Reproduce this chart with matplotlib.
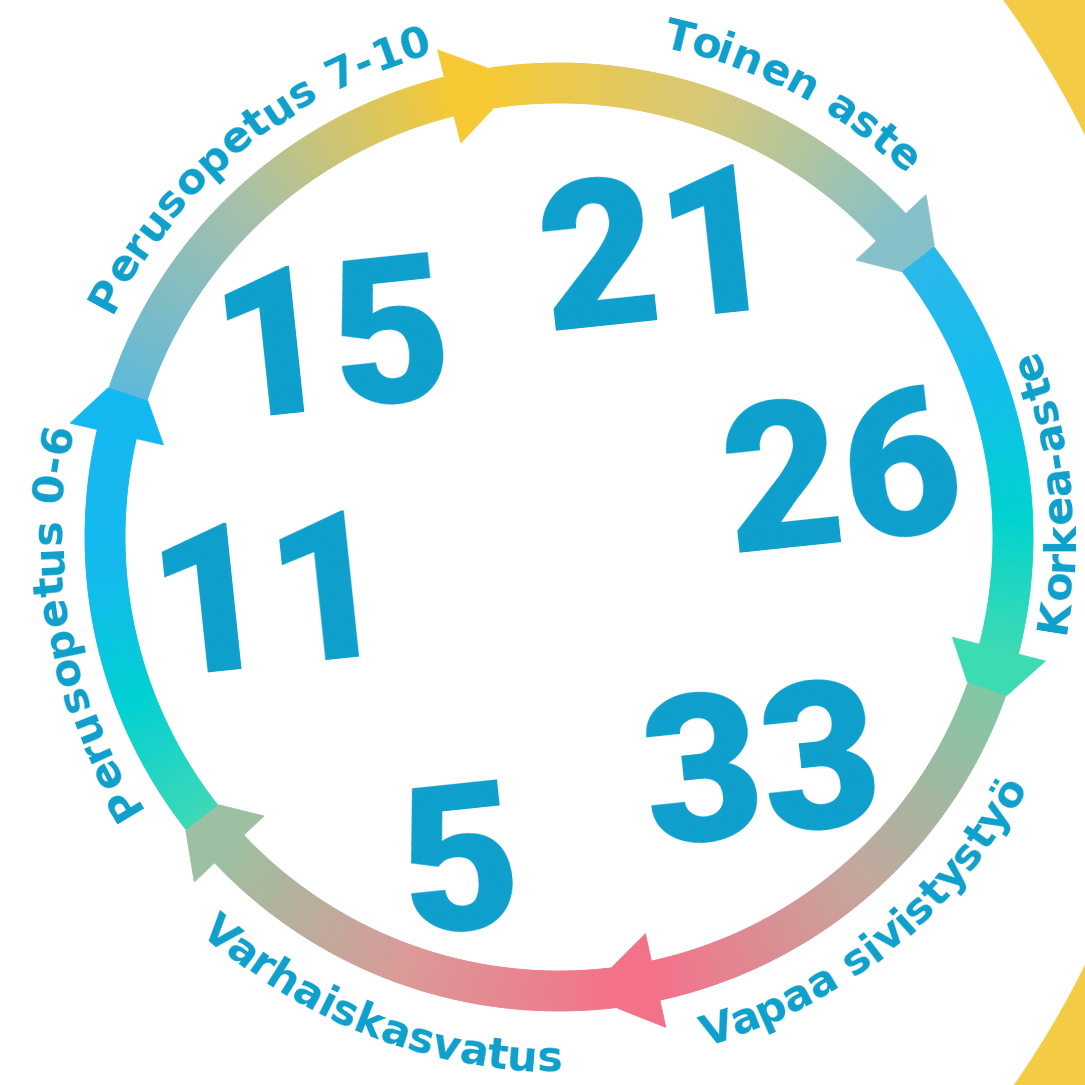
import numpy as np
import matplotlib.pyplot as plt
from matplotlib.collections import PolyCollection
from matplotlib.patches import Polygon, Wedge
from matplotlib.textpath import TextToPath
from matplotlib.font_manager import FontProperties
from matplotlib.colors import LinearSegmentedColormap

# data
stages = ["Toinen aste", "Korkea-aste", "Vapaa sivistystyö",
          "Varhaiskasvatus", "Perusopetus 0-6", "Perusopetus 7-10"]
values = [21, 26, 33, 5, 11, 15]

# layout (pixel coords of the 1085 px picture, y down)
W = 1085
DPI = 100
cx, cy = 559, W - 537
R = 454          # ring centre line
band = 40        # ring width
number_xy = [(658, 246), (842, 468), (761, 761), (458, 856), (268, 591), (331, 334)]
number_rot = 6
label_angle = [62.2, 5.4, -51.0, 249.0, 190.0, 129.0]
label_ccw = [False, True, True, True, False, False]
label_r = [500, 514, 530, 535, 498, 500]
arrow_angle = [104.0, 43.0, -14.3, -77.7, -136.6, -193.1]

# colour stops of each ring piece, going clockwise from an arrow to the next
seg_colors = [
    ["#F6C935", "#D6C87A", "#86C1C9"],
    ["#2AB8EA", "#12BDEE", "#00D2CF", "#3CDBB3"],
    ["#7FC8A3", "#C4A79D", "#F4718A"],
    ["#F4718A", "#DA9A98", "#9CC0A1"],
    ["#3ED8B6", "#00D0D2", "#14B9EE", "#14B8F0"],
    ["#5FB9DA", "#A8C0A8", "#F6C935"],
]
text_blue = "#0E9FCC"
yellow = "#F4CB45"

fig = plt.figure(figsize=(W / DPI, W / DPI), dpi=DPI)
ax = fig.add_axes([0, 0, 1, 1])
ax.set_xlim(0, W)
ax.set_ylim(0, W)
ax.set_aspect("equal")
ax.axis("off")


def pt(angle_deg, r):
    a = np.deg2rad(angle_deg)
    return cx + r * np.cos(a), cy + r * np.sin(a)


# big yellow ring at the right edge
ax.add_patch(Wedge((247, W - 550), 3000, 0, 360, width=3000 - 935,
                   facecolor=yellow, edgecolor="none"))

# gradient ring, piece by piece
arrow_len = 5.2   # degrees
n = len(arrow_angle)
for i in range(n):
    a0 = arrow_angle[i] - arrow_len
    a1 = arrow_angle[(i + 1) % n]
    if i == n - 1:
        a1 = arrow_angle[0] - 360
    cmap = LinearSegmentedColormap.from_list("s%d" % i, seg_colors[i])
    steps = np.linspace(a0, a1 - 0.5, 160)
    polys, cols = [], []
    for k in range(len(steps) - 1):
        s, e = steps[k], steps[k + 1]
        polys.append([pt(s, R - band / 2), pt(s, R + band / 2),
                      pt(e, R + band / 2), pt(e, R - band / 2)])
        cols.append(cmap(k / (len(steps) - 2)))
    ax.add_collection(PolyCollection(polys, facecolors=cols, edgecolors=cols,
                                     linewidths=0.6))

# arrow heads
for i in range(n):
    a = arrow_angle[i]
    col = seg_colors[i - 1][-1]
    poly = [pt(a, R + 48), pt(a, R - 48),
            pt(a - arrow_len, R - band / 2 - 1), pt(a - arrow_len, R + band / 2 + 1)]
    ax.add_patch(Polygon(poly, closed=True, facecolor=col, edgecolor=col, lw=0.5))

# curved labels
t2p = TextToPath()
fp = FontProperties(family="DejaVu Sans", weight="bold", size=31)


def width_px(s):
    w, h, d = t2p.get_text_width_height_descent(s, fp, ismath=False)
    return w * DPI / 72


for lab, ac, ccw, rb in zip(stages, label_angle, label_ccw, label_r):
    total = width_px(lab)
    for j, ch in enumerate(lab):
        if ch == " ":
            continue
        mid = (width_px(lab[:j]) + width_px(lab[:j + 1])) / 2 - total / 2
        d = np.rad2deg(mid / rb)
        ang = ac + d if ccw else ac - d
        rot = ang + 90 if ccw else ang - 90
        x, y = pt(ang, rb)
        ax.text(x, y, ch, fontproperties=fp, color=text_blue, ha="center",
                va="baseline", rotation=rot, rotation_mode="anchor")

# the numbers
nsize = 148
nfp = FontProperties(family="Roboto", weight=900, size=nsize)
cap = 0.711 * nsize * DPI / 72
r = np.deg2rad(number_rot)
for v, (x, y) in zip(values, number_xy):
    yy = W - y
    bx = x + np.sin(r) * cap / 2
    by = yy - np.cos(r) * cap / 2
    ax.text(bx, by, str(v), fontproperties=nfp, color=text_blue, ha="center",
            va="baseline", rotation=number_rot, rotation_mode="anchor")

fig.savefig("out.png", dpi=DPI)
